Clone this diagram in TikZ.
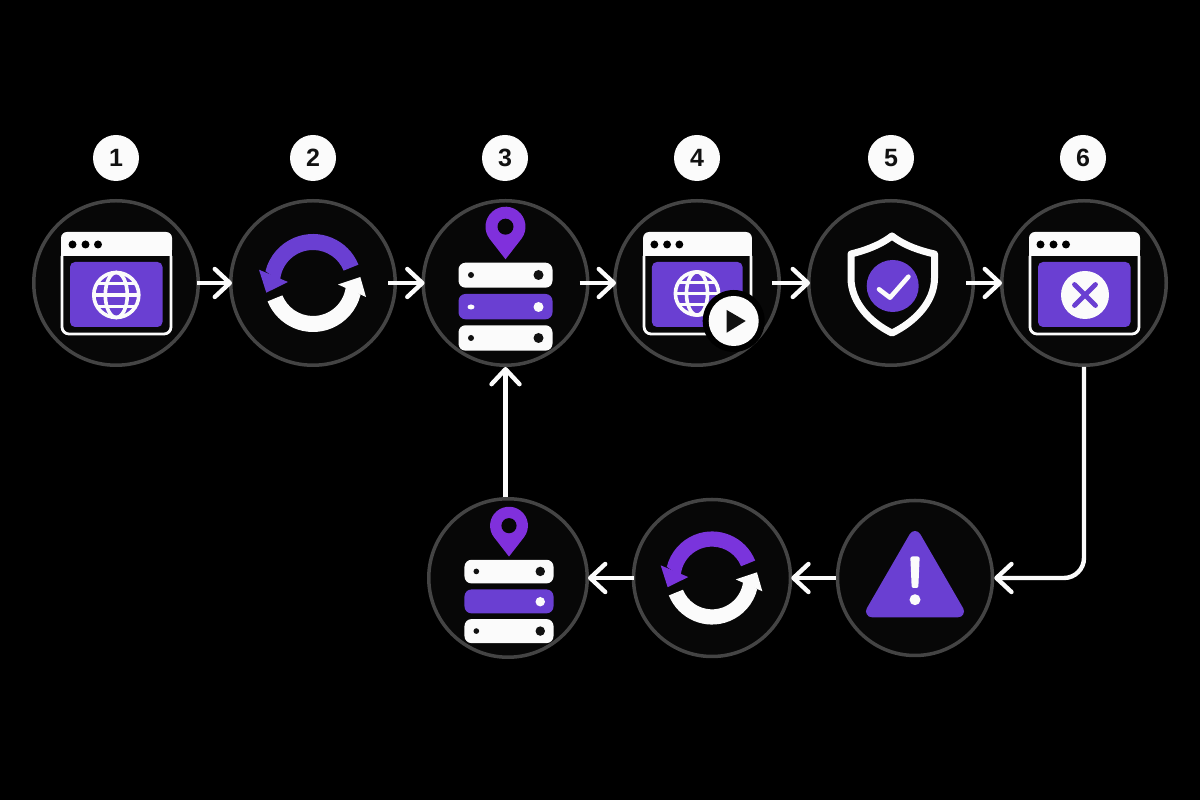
\documentclass[tikz,border=0pt]{standalone}
\usepackage{fontspec}
\setmainfont{Liberation Sans}
\usetikzlibrary{arrows.meta,calc}
\definecolor{vio}{HTML}{6A3FD2}
\definecolor{pinvio}{HTML}{8030DC}
\definecolor{magvio}{HTML}{7A34DC}
\definecolor{wht}{HTML}{FBFBFB}
\definecolor{ring}{HTML}{444444}
\definecolor{disc}{HTML}{070707}
\definecolor{ink}{HTML}{111111}
\tikzset{
  x=1pt,y=1pt,
  stage/.style={circle,draw=ring,fill=disc,line width=3.5pt,inner sep=0pt,minimum size=#1},
  badge/.style={circle,fill=wht,text=ink,inner sep=0pt,minimum size=46pt,font=\fontsize{25}{25}\selectfont\bfseries},
  flow/.style={draw=wht,line width=4.4pt,-{Straight Barb[length=15pt,width=28pt,line width=4.4pt,round]}},
  pics/winbox/.style={code={
    \fill[wht,rounded corners=6pt] (-55,27) rectangle (56,51);
    \fill[wht] (-55,27) rectangle (56,37);
    \foreach \dx in {-43.5,-30.5,-18} \fill[black] (\dx,38.5) circle[radius=4];
    \draw[wht,line width=2.8pt,rounded corners=7pt] (-54,27) -- (-54,-51) -- (55,-51) -- (55,27);
    \fill[vio,rounded corners=5pt] (-46,21) rectangle (46.5,-44);
  }},
  pics/globe/.style={code={
    \begin{scope}[wht,line width=3.6pt]
      \draw (0,0) circle[radius=22.5];
      \draw (0,0) ellipse[x radius=11,y radius=22.5];
      \draw (-22.5,0) -- (22.5,0);
      \draw (-19.5,11.5) -- (19.5,11.5);
      \draw (-19.5,-11.5) -- (19.5,-11.5);
    \end{scope}
  }},
  pics/refresh/.style={code={
    \fill[#1] (22:49) arc[start angle=22,end angle=166,radius=49] -- (178:33) arc[start angle=178,end angle=22,radius=33] -- cycle;
    \fill[#1] (-54,13.3) -- (-46.7,-9.7) -- (-25,1) -- cycle;
    \fill[wht] (202:49) arc[start angle=202,end angle=346,radius=49] -- (358:33) arc[start angle=358,end angle=202,radius=33] -- cycle;
    \fill[wht] (25,-1.5) -- (53,-14) -- (47.3,6) -- cycle;
  }},
  pics/server/.style={code={
    \fill[pinvio] (0,23.7) -- ($(0,56.3)+(-37.3:20)$) arc[start angle=-37.3,end angle=217.3,radius=20] -- cycle;
    \fill[disc] (0,56.3) circle[radius=8];
    \foreach \ty/\by in {20.3/-4.7,-42.3/-67.7}{
      \fill[wht,rounded corners=7pt] (-47,\ty) rectangle (47,\by);
    }
    \fill[vio,rounded corners=7pt] (-47,-11) rectangle (47,-36.3);
    \fill[ink] (-34.5,8) circle[radius=3];
    \fill[ink] (33,8) circle[radius=5];
    \fill[ink] (-34.5,-55) circle[radius=3];
    \fill[ink] (33,-55) circle[radius=5];
    \fill[#1] (-34.5,-24) ellipse[x radius=3.5,y radius=2.5];
    \fill[wht] (33,-24) circle[radius=5];
  }}
}
\begin{document}
\begin{tikzpicture}
\fill[black] (0,0) rectangle (1200,800);
\useasboundingbox (0,0) rectangle (1200,800);

% stage discs
\node[stage=164.5pt] (c1) at (116,517) {};
\node[stage=164.5pt] (c2) at (313,517) {};
\node[stage=164.5pt] (c3) at (505.5,517) {};
\node[stage=164.5pt] (c4) at (697,517) {};
\node[stage=164.5pt] (c5) at (891,517) {};
\node[stage=164.5pt] (c6) at (1084,517) {};
\node[stage=158.5pt] (c7) at (508,222) {};
\node[stage=157pt] (c8) at (712,222) {};
\node[stage=155pt] (c9) at (915,222) {};

% number badges
\node[badge] (b1) at (116,642) {1};
\node[badge] (b2) at (313,642) {2};
\node[badge] (b3) at (505,642) {3};
\node[badge] (b4) at (697,642) {4};
\node[badge] (b5) at (891,642) {5};
\node[badge] (b6) at (1083,642) {6};

% connectors
\draw[flow,shorten <=-3pt,shorten >=-3pt] (c1.east) -- (c2.west);
\draw[flow,shorten <=-9pt,shorten >=-3pt] (c2.east) -- (c3.west);
\draw[flow,shorten <=-10pt,shorten >=-3pt] (c3.east) -- (c4.west);
\draw[flow,shorten <=-9pt,shorten >=-3pt] (c4.east) -- (c5.west);
\draw[flow,shorten <=-9pt,shorten >=-2pt] (c5.east) -- (c6.west);
\draw[flow] (c3.south |- c7.north) -- (c3.south);
\draw[flow,rounded corners=20pt] (c6.south) |- (c9.east);
\draw[flow,shorten >=-1pt] (c9.west) -- (c8.east);
\draw[flow,shorten >=-1pt,shorten <=-2pt] (c8.west) -- (c7.east);

% icon 1
\pic at (c1) {winbox};
\pic at ($(c1)+(0.3,-12)$) {globe};
% icon 2
\pic at (c2) {refresh=vio};
% icon 3
\pic at (c3) {server=wht};
% icon 4
\pic[xscale=.98] at (c4) {winbox};
\pic[scale=.96] at ($(c4)+(0,-10.5)$) {globe};
\fill[black] (733.7,479) circle[radius=31];
\fill[wht] (733.7,479) circle[radius=25];
\fill[ink] ($(733.7,479)+(-7,11)$) -- ($(733.7,479)+(-7,-11.7)$) -- ($(733.7,479)+(12,0)$) -- cycle;
% icon 5
\draw[wht,line width=7pt,line join=round] ($(c5)+(1,47)$)
  .. controls ($(c5)+(-12,37)$) and ($(c5)+(-28,32)$) .. ($(c5)+(-40,29)$)
  -- ($(c5)+(-40,5)$)
  .. controls ($(c5)+(-40,-20)$) and ($(c5)+(-20,-40)$) .. ($(c5)+(1,-50)$)
  .. controls ($(c5)+(22,-40)$) and ($(c5)+(43.5,-20)$) .. ($(c5)+(43.5,5)$)
  -- ($(c5)+(43.5,29)$)
  .. controls ($(c5)+(30,32)$) and ($(c5)+(14,37)$) .. cycle;
\fill[vio] ($(c5)+(1.7,-3)$) circle[radius=26];
\draw[wht,line width=4.6pt,line cap=round,line join=round] ($(c5)+(-12,-6.3)$) -- ($(c5)+(-1,-14.7)$) -- ($(c5)+(17.4,6.3)$);
% icon 6
\pic at (c6) {winbox};
\fill[wht] ($(c6)+(1,-12)$) circle[radius=24];
\draw[vio,line width=4.8pt,line cap=round] ($(c6)+(-9.5,-22.5)$) -- ($(c6)+(11.5,-1.5)$);
\draw[vio,line width=4.8pt,line cap=round] ($(c6)+(-9.5,-1.5)$) -- ($(c6)+(11.5,-22.5)$);
% icon 7
\pic[scale=.947] at ($(c7)+(1,-1)$) {server=vio};
% icon 8
\pic[scale=.95] at (c8) {refresh=magvio};
% icon 9
\draw[vio,fill=vio,line width=12pt,line join=round] ($(c9)+(0,41)$) -- ($(c9)+(-43,-33.3)$) -- ($(c9)+(43,-33.3)$) -- cycle;
\fill[wht,rounded corners=2pt] ($(c9)+(-4.7,21.5)$) -- ($(c9)+(4.7,21.5)$) -- ($(c9)+(3.3,-10)$) -- ($(c9)+(-3.3,-10)$) -- cycle;
\fill[wht] ($(c9)+(0,-21.7)$) circle[radius=5.5];
\end{tikzpicture}
\end{document}
